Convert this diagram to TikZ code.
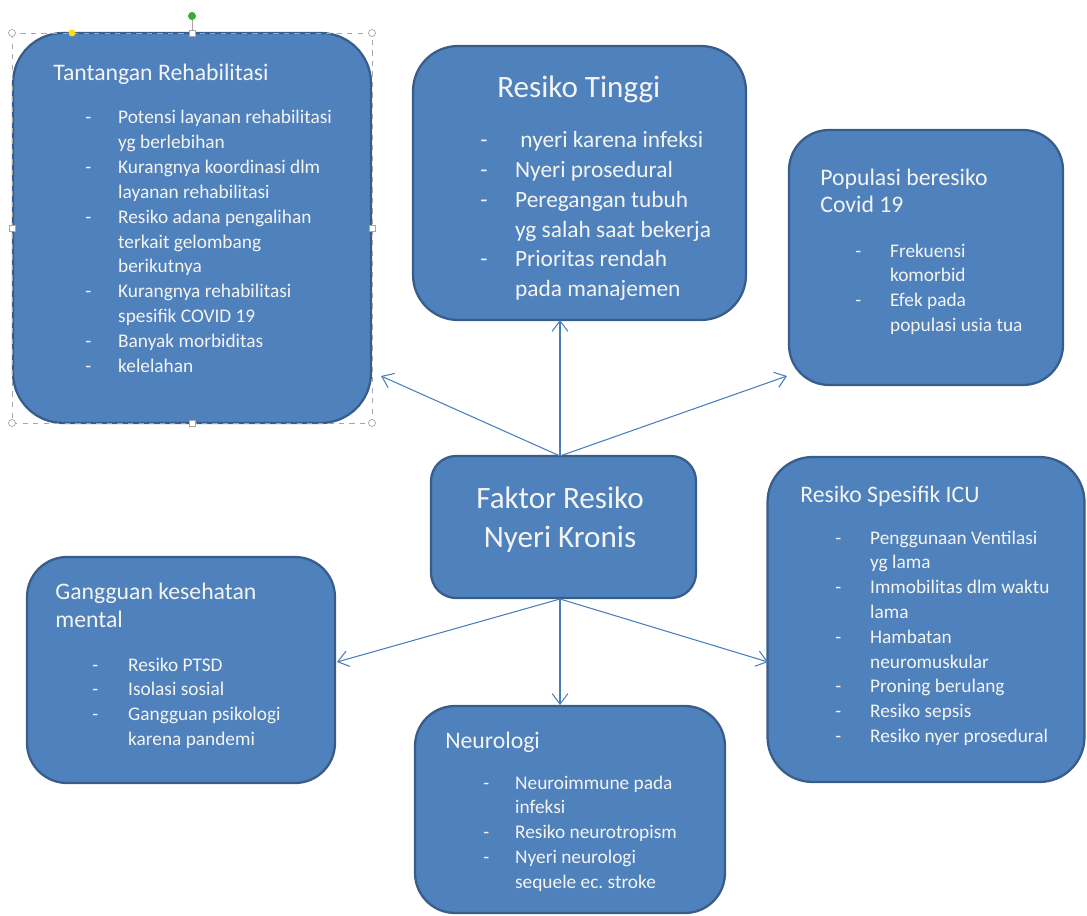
\documentclass[tikz,border=0pt]{standalone}
\usepackage{fontspec}
\setmainfont{Carlito}
\frenchspacing
\usetikzlibrary{arrows.meta}
\definecolor{boxfill}{HTML}{4F81BD}
\definecolor{boxline}{HTML}{385D8A}
\definecolor{arrcol}{HTML}{4A7EBB}
\definecolor{txt}{HTML}{F4F4F4}
\tikzset{
  rbox/.style={draw=boxline, line width=1.3pt, fill=boxfill, rectangle, inner sep=0pt},
  ttl/.style={anchor=base west, inner sep=0pt, text=txt, font=\fontsize{13.5}{15.9}\selectfont, align=left},
  lst/.style={anchor=base west, inner sep=0pt, text=txt, font=\fontsize{11}{14.12}\selectfont},
  arr/.style={draw=arrcol, line width=0.6pt, -{Straight Barb[length=6pt,width=9pt]}},
  selh/.style={draw=gray!70, fill=white, line width=0.4pt}
}
\begin{document}
\begin{tikzpicture}[x=0.02cm, y=-0.02cm]
\useasboundingbox (0,0) rectangle (1087,915);
% boxes
\node[rbox, rounded corners=1cm, minimum width=7.16cm, minimum height=7.8cm] (b1) at (192,228) {};
\node[rbox, rounded corners=0.9cm, minimum width=6.66cm, minimum height=5.48cm] (b2) at (579.5,183) {};
\node[rbox, rounded corners=0.8cm, minimum width=5.48cm, minimum height=5.1cm] (b3) at (926,257.5) {};
\node[rbox, rounded corners=0.5cm, minimum width=5.3cm, minimum height=2.84cm] (b4) at (563.5,527) {};
\node[rbox, rounded corners=0.9cm, minimum width=6.34cm, minimum height=6.5cm] (b5) at (926,619.5) {};
\node[rbox, rounded corners=0.8cm, minimum width=6.16cm, minimum height=4.52cm] (b6) at (181,670) {};
\node[rbox, rounded corners=0.8cm, minimum width=6.2cm, minimum height=4.14cm] (b7) at (570,809.5) {};
% selection frame around box 1
\draw[gray!70, dashed, line width=0.4pt] (12,33) rectangle (372,423);
\draw[gray!70, line width=0.4pt] (192,20) -- (192,33);
\foreach \p/\q in {12/33,372/33,12/423,372/423}
  \draw[selh] (\p,\q) circle (3.5);
\foreach \p/\q in {192/33,192/423,12/228,372/228}
  \draw[selh] (\p-3,\q-3) rectangle (\p+3,\q+3);
\fill[green!60!black!80!white] (192,16) circle (4);
\fill[yellow!80!orange] (72,33) circle (3.5);
% texts box 1
\node[ttl] (t1) at (53,81) {Tantangan Rehabilitasi};
\node[lst] (l1) at (85,124) {\begin{tabular}[t]{@{}p{18.7pt}@{}l@{}}
- & Potensi layanan rehabilitasi\\
  & yg berlebihan\\
- & Kurangnya koordinasi dlm\\
  & layanan rehabilitasi\\
- & Resiko adana pengalihan\\
  & terkait gelombang\\
  & berikutnya\\
- & Kurangnya rehabilitasi\\
  & spesifik COVID 19\\
- & Banyak morbiditas\\
- & kelelahan
\end{tabular}};
% box 2
\node[anchor=base west, inner sep=0pt, text=txt, font=\fontsize{17.7}{20}\selectfont] (t2) at (497,98) {Resiko Tinggi};
\node[anchor=base west, inner sep=0pt, text=txt, font=\fontsize{13.3}{16.9}\selectfont] (l2) at (480,148) {\begin{tabular}[t]{@{}p{19.8pt}@{}l@{}}
- & \ nyeri karena infeksi\\
- & Nyeri prosedural\\
- & Peregangan tubuh\\
  & yg salah saat bekerja\\
- & Prioritas rendah\\
  & pada manajemen
\end{tabular}};
% box 3
\node[ttl] (t3) at (820,213) {Populasi beresiko\\Covid 19};
\node[lst] (l3) at (855,257) {\begin{tabular}[t]{@{}p{19.8pt}@{}l@{}}
- & Frekuensi\\
  & komorbid\\
- & Efek pada\\
  & populasi usia tua
\end{tabular}};
% box 4
\node[anchor=base, inner sep=0pt, text=txt, font=\fontsize{17.7}{22.1}\selectfont, align=center] (t4) at (560,547) {Faktor Resiko\\Nyeri Kronis};
% box 5
\node[ttl] (t5) at (800,502) {Resiko Spesifik ICU};
\node[lst] (l5) at (835,544) {\begin{tabular}[t]{@{}p{19.8pt}@{}l@{}}
- & Penggunaan Ventilasi\\
  & yg lama\\
- & Immobilitas dlm waktu\\
  & lama\\
- & Hambatan\\
  & neuromuskular\\
- & Proning berulang\\
- & Resiko sepsis\\
- & Resiko nyer prosedural
\end{tabular}};
% box 6
\node[ttl] (t6) at (55,627) {Gangguan kesehatan\\mental};
\node[lst] (l6) at (92,671) {\begin{tabular}[t]{@{}p{20.4pt}@{}l@{}}
- & Resiko PTSD\\
- & Isolasi sosial\\
- & Gangguan psikologi\\
  & karena pandemi
\end{tabular}};
% box 7
\node[ttl] (t7) at (445,748) {Neurologi};
\node[lst] (l7) at (483,789) {\begin{tabular}[t]{@{}p{18.1pt}@{}l@{}}
- & Neuroimmune pada\\
  & infeksi\\
- & Resiko neurotropism\\
- & Nyeri neurologi\\
  & sequele ec.\ stroke
\end{tabular}};
% connectors
\coordinate (cN) at (560,456);
\coordinate (cS) at (560,599);
\coordinate (e1) at (381,376);
\coordinate (e2) at (560,320);
\coordinate (e3) at (787,376);
\coordinate (e6) at (337,662);
\coordinate (e7) at (560,705);
\coordinate (e5) at (768,662);
\draw[arr] (cN) -- (e1);
\draw[arr] (cN) -- (e2);
\draw[arr] (cN) -- (e3);
\draw[arr] (cS) -- (e6);
\draw[arr] (cS) -- (e7);
\draw[arr] (cS) -- (e5);
\end{tikzpicture}
\end{document}
